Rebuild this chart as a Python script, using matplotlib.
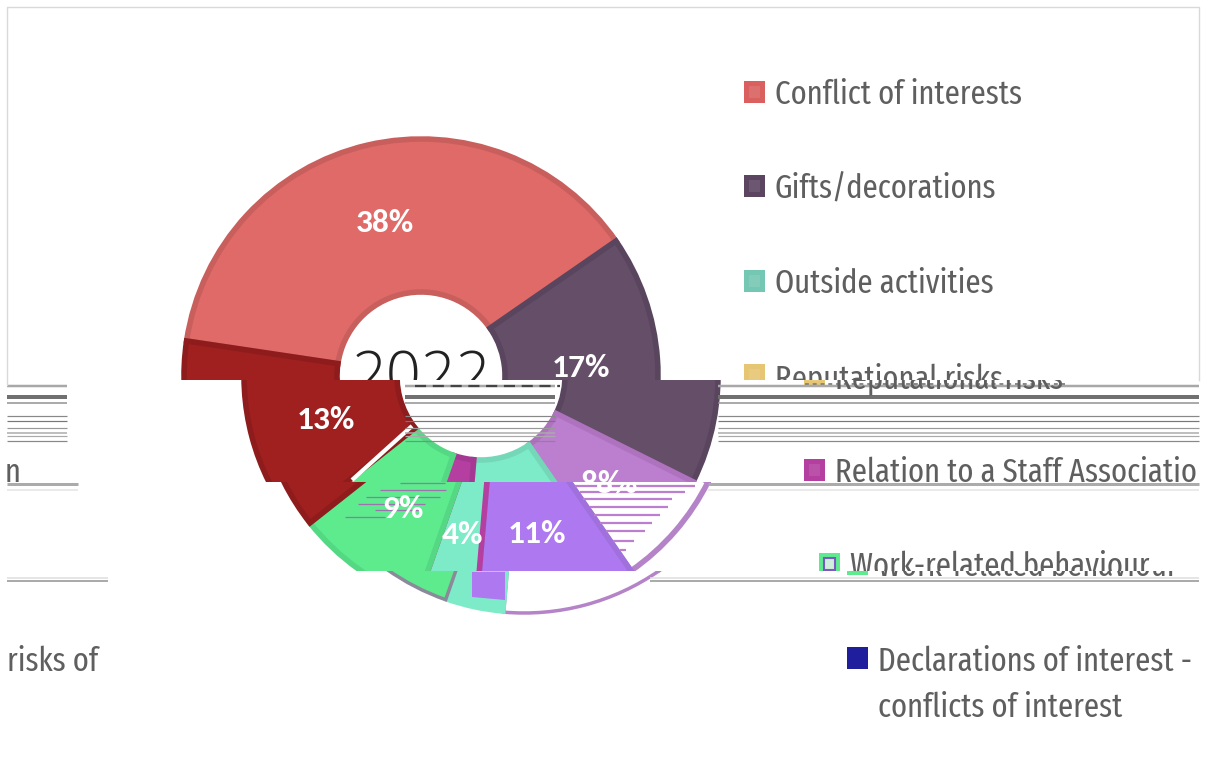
import numpy as np
import matplotlib
matplotlib.use('Agg')
from matplotlib import pyplot as plt
from matplotlib.patches import Rectangle

# wedges, clockwise from the left
shares = [38, 17, 8, 11, 4, 9, 13]
share_labels = ['38%', '17%', '8%', '11%', '4%', '9%', '13%']
legend_names = ['Conflict of interests', 'Gifts/decorations', 'Outside activities', 'Reputational risks',
                'Relation to a Staff Association', 'Work-related behaviour',
                'Declarations of interest - risks of']
legend_second_line = 'conflicts of interest'
centre_label = '2022'

red = '#E06A68'
dark = '#654E68'
lavender = '#BC7FCF'
mint = '#7EEBC8'
magenta = '#B43FA0'
green = '#5DEB8E'
darkred = '#A02020'
purple = '#AD78F0'
legend_colors = ['#D9605E', '#5C4560', '#74C7B2', '#E6C573', '#B43FA0', '#5DEB8E', '#1F1F9E']

# the picture is torn into horizontal bands, each one slid to the right
band_tops = [7, 380, 482, 571]
band_bottoms = [380, 482, 571, 782]
band_shifts = [0, 60, 75, 103]
band_widths = [4, 4, 4, 2.5]
band_faces = [
    [red, dark, lavender, mint, magenta, green, darkred],
    [red, dark, lavender, mint, magenta, green, darkred],
    [red, dark, 'white', purple, mint, green, darkred],
    [red, dark, 'white', 'white', mint, green, darkred],
]
band_edges = [
    ['#C95F5D', '#5A455E', '#AE72BF', '#74D8B8', '#A53893', '#55D883', '#8E1C1C'],
    ['#C95F5D', '#5A455E', '#AE72BF', '#74D8B8', '#A53893', '#55D883', '#8E1C1C'],
    ['#C95F5D', '#5A455E', '#B583C8', '#A070DC', magenta, '#55D883', '#8E1C1C'],
    ['#C95F5D', '#5A455E', '#B583C8', '#B583C8', mint, '#8A8A9A', '#8E1C1C'],
]

# (row, weight, gray) of the smeared rules
rule_rows = [(386, 2.5, '#A8A8A8'), (397, 4, '#707070'), (403, 1.5, '#909090'), (416, 1.2, '#888888'),
             (421, 1.2, '#777777'), (428, 1.2, '#999999'), (433, 1.5, '#AAAAAA'), (436, 1.2, '#AAAAAA'),
             (441, 1.2, '#888888')]
rule_spans = [(7, 67), (405, 555), (718, 1199)]
rule_rows2 = [(484, 3, '#ABABAB'), (490, 1.5, '#E4E4E4')]
rule_spans2 = [(7, 78), (708, 1199)]
rule_rows3 = [(578, 1.5, '#DDDDDD'), (581, 2, '#ABABAB')]
rule_spans3 = [(7, 108), (650, 1199)]

# lavender smears inside the torn 8% wedge and the 9% wedge: row, start, end
smear_8 = [(486, 575, 695), (492, 580, 685), (499, 583, 672), (507, 590, 668), (515, 594, 660),
           (523, 600, 652), (531, 606, 645), (541, 613, 634), (550, 620, 626)]
smear_9 = [(483, 400, 445), (490, 380, 446), (497, 366, 440), (504, 358, 425), (510, 375, 420), (517, 345, 385)]


def Y(row):
    return 782 - row


fig = plt.figure(figsize=(12.06, 7.82), dpi=100)
ax = fig.add_axes([0, 0, 1, 1])

narrow = ['Fira Sans Extra Condensed', 'PT Sans Narrow', 'Liberation Sans', 'DejaVu Sans']
bold_label = ['Carlito', 'Open Sans', 'DejaVu Sans']
text_gray = '#5F5F5F'


def clipped(artist, clip):
    artist.set_clip_on(True)
    artist.set_clip_path(clip)


for i in range(len(band_shifts)):
    top, bottom, dx = band_tops[i], band_bottoms[i], band_shifts[i]
    clip = Rectangle((7, Y(bottom)), 1192, bottom - top, transform=ax.transData)

    wedges, _ = ax.pie(shares, colors=band_faces[i], startangle=171.5, counterclock=False,
                       radius=237, center=(421 + dx, Y(376)), frame=True,
                       wedgeprops=dict(width=153, linewidth=band_widths[i]))
    for w, edge, lab in zip(wedges, band_edges[i], share_labels):
        w.set_edgecolor(edge)
        clipped(w, clip)
        mid = np.radians((w.theta1 + w.theta2) / 2)
        t = ax.text(421 + dx + 160 * np.cos(mid), Y(379) + 160 * np.sin(mid), lab, color='white',
                    fontsize=24, fontweight='bold', family=bold_label, ha='center', va='center')
        clipped(t, clip)

    # legend column, what runs off the right edge comes back in on the left
    for k, name in enumerate(legend_names):
        row = 92 + k * 94.4
        for x in (dx, dx - 1192):
            box = Rectangle((744 + x, Y(row + 11)), 21, 22, facecolor=legend_colors[k], linewidth=0)
            ax.add_patch(box)
            clipped(box, clip)
            if k == 5:
                inner = Rectangle((749 + x, Y(row + 6)), 11, 12, facecolor='#CFEFDD', edgecolor='#7A5AC0', linewidth=1.5)
            elif k < 6:
                inner = Rectangle((749 + x, Y(row + 6)), 11, 12, facecolor='white', alpha=0.1, linewidth=0)
            else:
                inner = None
            if inner is not None:
                ax.add_patch(inner)
                clipped(inner, clip)
            t = ax.text(775 + x, Y(row + 3), name, color=text_gray, fontsize=24, family=narrow, va='center')
            clipped(t, clip)
            if k == len(legend_names) - 1:
                t = ax.text(775 + x, Y(row + 49), legend_second_line, color=text_gray, fontsize=24,
                            family=narrow, va='center')
                clipped(t, clip)

clip_top = Rectangle((7, Y(380)), 1192, 373, transform=ax.transData)
t = ax.text(421, Y(380), centre_label, color='#222222', fontsize=44, family=['Open Sans', 'DejaVu Sans'],
            fontweight='light', ha='center', va='center')
clipped(t, clip_top)

# white cut along the 13%/9% border
ax.plot([412, 352], [Y(426), Y(480)], color='white', lw=3, solid_capstyle='butt')

# purple column left in the 4% wedge below the last tear
ax.fill([472, 505, 505, 472], [Y(572), Y(572), Y(600), Y(597)], color=purple, lw=0)

for rows, spans in [(rule_rows, rule_spans), (rule_rows2, rule_spans2), (rule_rows3, rule_spans3)]:
    for row, weight, gray in rows:
        for x0, x1 in spans:
            ax.plot([x0, x1], [Y(row), Y(row)], color=gray, lw=weight * 0.72, solid_capstyle='butt')

for row, x0, x1 in smear_8:
    ax.plot([x0, x1], [Y(row), Y(row)], color=lavender, lw=1.6, solid_capstyle='butt')
for row, x0, x1 in smear_9:
    ax.plot([x0, x1], [Y(row), Y(row)], color='#A070B0', lw=0.9, solid_capstyle='butt')

# remains of the lower half of the centre text and the reputational row
ax.plot([415, 560], [Y(386), Y(386)], color='#444444', lw=1.6, ls=(0, (5, 3)))
ax.plot([805, 1065], [Y(384), Y(384)], color='#888888', lw=1.4, ls=(0, (2, 2)))

# frame, only the part above the tear is left
ax.plot([7, 7, 1199, 1199], [Y(385), Y(7), Y(7), Y(380)], color='#D9D9D9', lw=1)

ax.set_xlim(0, 1206)
ax.set_ylim(0, 782)
ax.set_aspect('auto')
ax.axis('off')
fig.savefig('out.png', dpi=100, facecolor='white')
